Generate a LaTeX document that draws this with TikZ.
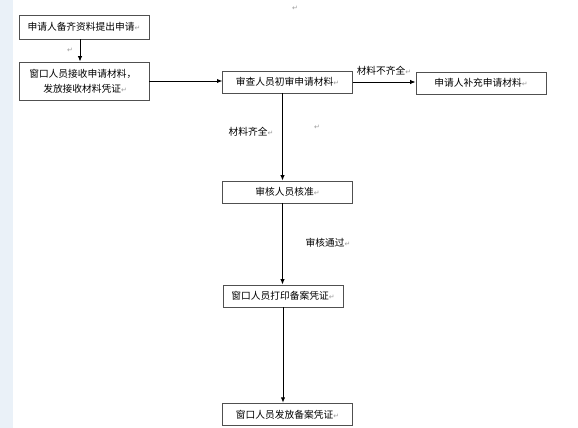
\documentclass[tikz,border=0pt]{standalone}
\usepackage{fontspec}
\newfontfamily\cjk{Noto Sans CJK SC}
\newfontfamily\symf{DejaVu Sans}
\usetikzlibrary{arrows.meta}
\definecolor{edgeblue}{HTML}{EAF1F8}
\definecolor{boxline}{HTML}{505050}
\definecolor{markgray}{HTML}{9A9A9A}
\newcommand\retmk{{\symf\fontsize{5.2pt}{5.5pt}\selectfont\textcolor{markgray}{↵}}}
\tikzset{
  box/.style={draw=boxline, line width=0.65pt, fill=white, inner sep=0pt,
    font=\cjk\fontsize{7.3pt}{9pt}\selectfont},
  lbl/.style={inner sep=0pt, font=\cjk\fontsize{7.3pt}{9pt}\selectfont},
  arr/.style={draw=black, line width=0.65pt, -{Latex[length=4pt,width=3.2pt]}},
}
\begin{document}
\begin{tikzpicture}[x=0.75pt,y=-0.75pt]
\useasboundingbox (0,0) rectangle (578,428);
\fill[white] (0,0) rectangle (578,428);
\fill[edgeblue] (0,0) rectangle (13,428);
% boxes
\node[box, minimum width=97.5pt, minimum height=18pt] (b1) at (84,27) {申请人备齐资料提出申请\retmk};
\node[box, minimum width=97.5pt, minimum height=28.5pt] (b2) at (84,81) {};
\node[lbl, anchor=west] (b2a) at (29,74) {窗口人员接收申请材料，};
\node[lbl, anchor=west] (b2b) at (43,89) {发放接收材料凭证\retmk};
\node[box, minimum width=97pt, minimum height=16.5pt] (b3) at (287.5,82) {审查人员初审申请材料\retmk};
\node[box, minimum width=97.5pt, minimum height=16.5pt] (b4) at (481,83) {申请人补充申请材料\retmk};
\node[box, minimum width=97pt, minimum height=16.5pt] (b5) at (287.5,192) {审核人员核准\retmk};
\node[box, minimum width=90pt, minimum height=16.5pt] (b6) at (283,296) {窗口人员打印备案凭证\retmk};
\node[box, minimum width=97pt, minimum height=17pt] (b7) at (287.5,414.5) {窗口人员发放备案凭证\retmk};
% labels
\node[lbl] (l1) at (384,70.5) {材料不齐全\retmk};
\node[lbl] (l2) at (251,132) {材料齐全\retmk};
\node[lbl] (l3) at (328,243) {审核通过\retmk};
% stray paragraph marks
\node[inner sep=0pt] (m1) at (295,8) {\retmk};
\node[inner sep=0pt] (m2) at (70,50) {\retmk};
\node[inner sep=0pt] (m3) at (317,127) {\retmk};
% connectors
\draw[arr] ([xshift=-3pt]b1.south) -- ([xshift=-3pt]b1.south |- b2.north);
\draw[arr] (b2.east) -- (b2.east -| b3.west);
\draw[arr] (b3.east) -- (b3.east -| b4.west);
\draw[arr] ([xshift=-3.75pt]b3.south) -- ([xshift=-3.75pt]b3.south |- b5.north);
\draw[arr] ([xshift=-3.75pt]b5.south) -- ([xshift=-3.75pt]b5.south |- b6.north);
\draw[arr] (b6.south) -- (b6.south |- b7.north);
\end{tikzpicture}
\end{document}
